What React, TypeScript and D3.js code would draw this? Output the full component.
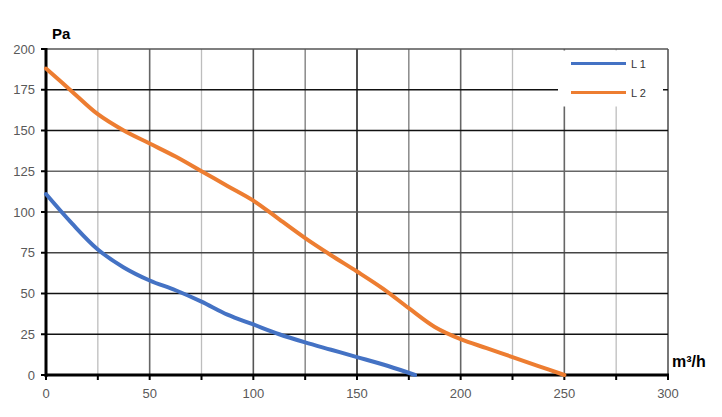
import * as d3 from 'd3';

const xTicks = [0, 25, 50, 75, 100, 125, 150, 175, 200, 225, 250, 275, 300];
const xLabels = [0, 50, 100, 150, 200, 250, 300];
const yTicks = [0, 25, 50, 75, 100, 125, 150, 175, 200];

// L 1 curve (m³/h, Pa)
const l1Flow = [0, 12.5, 25, 37.5, 50, 62.5, 75, 87.5, 100, 112.5, 125, 137.5, 150, 165, 178];
const l1Pa = [111, 93, 77, 66, 58, 52, 45, 37, 31, 25, 20, 15.5, 11, 5.5, 0];

// L 2 curve
const l2Flow = [0, 12.5, 25, 37.5, 50, 62.5, 75, 87.5, 100, 112.5, 125, 137.5, 150, 162.5, 175, 187.5, 200, 212.5, 225, 237.5, 250];
const l2Pa = [188, 174, 160, 150, 142, 134, 125, 116, 107, 95.5, 84, 73.5, 63.5, 53, 41, 29.5, 22, 16.5, 11, 5.5, 0];

const seriesNames = ['L 1', 'L 2'];

const WIDTH = 722;
const HEIGHT = 417;
const PLOT = { left: 46, right: 668, top: 49, bottom: 375 };
const COLORS = ['#4472C4', '#ED7D31'];

// the scanned grid has uneven line shades, keep them per tick
const vGridColor: Record<number, string> = {
  25: '#bdbdbd', 50: '#666', 75: '#bdbdbd', 100: '#555', 125: '#777', 150: '#222',
  175: '#777', 200: '#666', 225: '#bdbdbd', 250: '#666', 275: '#bdbdbd', 300: '#555',
};
const hGridColor: Record<number, string> = {
  25: '#111', 50: '#111', 75: '#444', 100: '#555', 125: '#666', 150: '#111', 175: '#111', 200: '#555',
};

export default function App() {
  const x = d3.scaleLinear().domain([0, 300]).range([PLOT.left, PLOT.right]);
  const y = d3.scaleLinear().domain([0, 200]).range([PLOT.bottom, PLOT.top]);

  const line = d3
    .line<[number, number]>()
    .x((d) => x(d[0]))
    .y((d) => y(d[1]))
    .curve(d3.curveCatmullRom.alpha(0.5));

  const series = [
    l1Flow.map((f, i) => [f, l1Pa[i]] as [number, number]),
    l2Flow.map((f, i) => [f, l2Pa[i]] as [number, number]),
  ];

  const font = '"Liberation Sans", Arial, sans-serif';

  return (
    <svg
      width={WIDTH}
      height={HEIGHT}
      viewBox={`0 0 ${WIDTH} ${HEIGHT}`}
      style={{ position: 'absolute', left: 0, top: 0, background: '#fff' }}
      fontFamily={font}
    >
      <rect width={WIDTH} height={HEIGHT} fill="#fff" />

      {/* vertical grid */}
      {xTicks.filter((t) => t > 0).map((t) => (
        <line
          key={'vx' + t}
          x1={x(t)}
          x2={x(t)}
          y1={y(200)}
          y2={y(0)}
          stroke={vGridColor[t]}
          strokeWidth={t % 50 === 0 ? 1.6 : 1.3}
        />
      ))}

      {/* horizontal grid */}
      {yTicks.filter((t) => t > 0).map((t) => (
        <line
          key={'hy' + t}
          x1={x(0)}
          x2={x(300)}
          y1={y(t)}
          y2={y(t)}
          stroke={hGridColor[t]}
          strokeWidth={1.4}
        />
      ))}

      {/* legend box hides the grid behind it */}
      <rect x={558} y={50.5} width={105} height={56} fill="#fff" />

      {/* axes */}
      <line x1={x(0)} x2={x(0)} y1={y(200) - 1} y2={y(0) + 2} stroke="#000" strokeWidth={3} />
      <line x1={x(0) - 1} x2={x(300) + 1} y1={y(0)} y2={y(0)} stroke="#000" strokeWidth={3} />
      {yTicks.map((t) => (
        <line key={'yt' + t} x1={x(0) - 5} x2={x(0)} y1={y(t)} y2={y(t)} stroke="#000" strokeWidth={2} />
      ))}
      {xTicks.map((t) => (
        <line key={'xt' + t} x1={x(t)} x2={x(t)} y1={y(0)} y2={y(0) + 5} stroke="#000" strokeWidth={2} />
      ))}

      {yTicks.map((t) => (
        <text key={'yl' + t} x={35} y={y(t) + 4.5} textAnchor="end" fontSize={13} fill="#595959">
          {t}
        </text>
      ))}
      {xLabels.map((t) => (
        <text key={'xl' + t} x={x(t)} y={398} textAnchor="middle" fontSize={13} fill="#595959">
          {t}
        </text>
      ))}

      <text x={52} y={39} fontSize={15} fontWeight="bold" fill="#000">
        Pa
      </text>
      <text x={672} y={367} fontSize={16} fontWeight="bold" fill="#000">
        m³/h
      </text>

      {/* curves */}
      {series.map((s, i) => (
        <path
          key={'s' + i}
          d={line(s) ?? ''}
          fill="none"
          stroke={COLORS[i]}
          strokeWidth={4}
          strokeLinecap="round"
          strokeLinejoin="round"
        />
      ))}

      {/* legend */}
      {seriesNames.map((name, i) => (
        <g key={'lg' + i} transform={`translate(571,${63.5 + i * 29})`}>
          <line x1={0} x2={55} y1={0} y2={0} stroke={COLORS[i]} strokeWidth={3} />
          <text x={60} y={4} fontSize={11} fill="#333">
            {name}
          </text>
        </g>
      ))}
    </svg>
  );
}
